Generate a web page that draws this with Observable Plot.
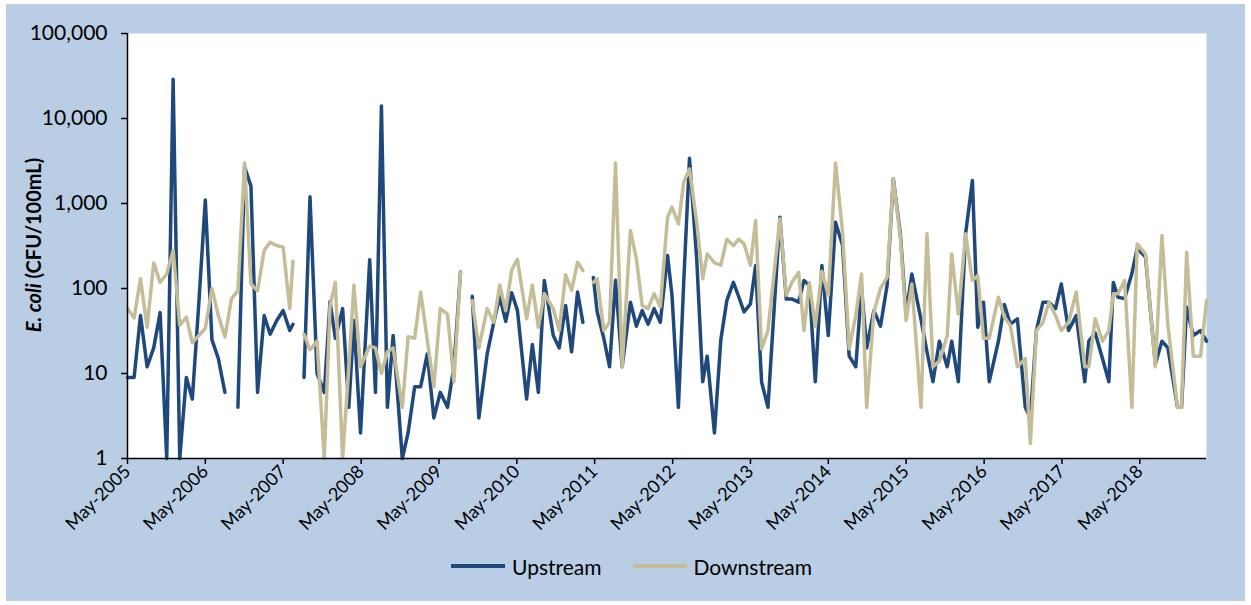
<!DOCTYPE html>
<html>
<head>
<meta charset="utf-8">
<script src="https://cdn.jsdelivr.net/npm/d3@7"></script>
<script src="https://cdn.jsdelivr.net/npm/@observablehq/plot@0.6"></script>
<style>
  html, body { margin: 0; padding: 0; background: #ffffff; }
  body { width: 1251px; height: 605px; position: relative; overflow: hidden; font-family: Lato, "Open Sans", sans-serif; }
  #panel { position: absolute; left: 6px; top: 4px; width: 1239px; height: 597px; background: #b9cde5; }
  #chart { position: absolute; left: 0; top: 0; }
  #legend { position: absolute; left: 450px; top: 553px; height: 26px; display: flex; align-items: center; font-size: 21px; color: #000; }
  #legend .item { display: flex; align-items: center; margin-right: 30px; }
  #legend svg { margin-right: 6px; }
</style>
</head>
<body>
<div id="panel"></div>
<div id="chart"></div>
<div id="legend"></div>
<script>
// Monthly E. coli samples (CFU/100mL); null marks a missed sample (line gap)
const sampleDates = [
  "2005-05-01","2005-06-01","2005-07-01","2005-08-01","2005-09-01","2005-10-01","2005-11-01","2005-12-01",
  "2006-01-01","2006-02-01","2006-03-01","2006-04-01","2006-05-01","2006-06-01","2006-07-01","2006-08-01",
  "2006-09-01","2006-10-01","2006-11-01","2006-12-01","2007-01-01","2007-02-01","2007-03-01","2007-04-01",
  "2007-05-01","2007-06-01","2007-06-16","2007-07-10","2007-08-07","2007-09-04","2007-10-07","2007-11-10",
  "2007-12-07","2008-01-01","2008-02-04","2008-03-04","2008-03-28","2008-04-28","2008-06-10","2008-07-07",
  "2008-08-04","2008-09-01","2008-09-28","2008-11-10","2008-12-07","2009-01-07","2009-02-04","2009-03-07",
  "2009-04-07","2009-05-07","2009-06-10","2009-07-10","2009-08-10","2009-09-07","2009-10-04","2009-11-04",
  "2009-12-13","2010-01-13","2010-02-10","2010-03-10","2010-04-07","2010-05-04","2010-06-16","2010-07-13",
  "2010-08-10","2010-09-07","2010-10-19","2010-11-16","2010-12-16","2011-01-13","2011-02-10","2011-03-07",
  "2011-04-01","2011-04-25","2011-05-13","2011-06-13","2011-07-10","2011-08-07","2011-09-07","2011-10-16",
  "2011-11-13","2011-12-10","2012-01-07","2012-02-04","2012-03-04","2012-04-07","2012-04-28","2012-05-28",
  "2012-06-22","2012-07-19","2012-08-22","2012-09-19","2012-10-10","2012-11-13","2012-12-13","2013-01-10",
  "2013-02-10","2013-03-07","2013-04-01","2013-05-01","2013-05-25","2013-06-22","2013-07-22","2013-09-16",
  "2013-10-16","2013-11-13","2013-12-13","2014-01-07","2014-02-01","2014-03-01","2014-04-01","2014-05-01",
  "2014-06-04","2014-07-07","2014-08-07","2014-09-07","2014-10-04","2014-10-28","2014-12-01","2015-01-01",
  "2015-02-01","2015-03-02","2015-04-04","2015-05-01","2015-05-28","2015-07-10","2015-08-07","2015-09-04",
  "2015-10-04","2015-11-10","2015-12-01","2016-01-01","2016-02-04","2016-03-07","2016-04-01","2016-04-28",
  "2016-05-25","2016-07-07","2016-08-04","2016-09-01","2016-10-04","2016-11-10","2016-12-04","2017-01-01",
  "2017-02-01","2017-03-01","2017-04-01","2017-04-28","2017-06-01","2017-07-07","2017-08-16","2017-09-04",
  "2017-10-04","2017-11-07","2017-12-07","2017-12-28","2018-01-19","2018-02-19","2018-03-25","2018-04-19",
  "2018-05-28","2018-07-13","2018-08-13","2018-09-10","2018-10-25","2018-11-13","2018-12-07","2019-01-07",
  "2019-02-10","2019-03-10"
];

const upstream = [
  9, 9, 48, 12, 20, 52, 1, 29000,
  1, 9, 5, 70, 1100, 25, 15, 6,
  null, 4, 2700, 1600, 6, 48, 29, 42,
  55, 32, 38, null, 9, 1200, 10, 6,
  70, 26, 58, 4, 42, 2, 218, 6,
  14000, 4, 28, 1, 2, 7, 7, 17,
  3, 6, 4, 12, 158, null, 81, 3,
  17, 40, 80, 41, 89, 55, 5, 22,
  6, 124, 28, 20, 63, 18, 91, 40,
  null, 135, 53, 26, 12, 125, 12, 69,
  36, 55, 38, 58, 40, 245, 83, 4,
  120, 3400, 220, 8, 16, 2, 25, 72,
  118, 80, 53, 66, 186, 8, 4, 690,
  75, 75, 69, 124, 109, 8, 186, 28,
  600, 320, 16, 12, 100, 20, 55, 36,
  110, 1950, 440, 50, 148, 43, 18, 8,
  24, 12, 24, 8, 440, 1860, 35, 69,
  8, 24, 65, 38, 44, 4, 3, 32,
  69, 69, 58, 113, 32, 48, 8, 24,
  30, 15, 8, 118, 79, 76, 150, 297,
  234, 13, 24, 20, 4, 4, 60, 28,
  32, 24
];

const downstream = [
  58, 45, 130, 35, 200, 118, 148, 280,
  37, 46, 23, 28, 34, 100, 48, 27,
  76, 94, 3000, 113, 94, 280, 350, 320,
  307, 58, 210, null, 29, 19, 24, 1,
  63, 118, 1, 12, 109, 12, 21, 20,
  10, 18, 20, 4, 27, 26, 91, 25,
  7, 58, 50, 8, 158, null, 72, 20,
  58, 40, 110, 55, 165, 220, 44, 110,
  35, 87, 58, 32, 145, 95, 204, 162,
  null, 118, 130, 32, 40, 3000, 12, 480,
  223, 63, 58, 87, 61, 690, 905, 575,
  1780, 2550, 600, 130, 255, 200, 188, 380,
  320, 380, 335, 188, 630, 19.5, 32, 660,
  83, 120, 155, 32, 118, 36, 160, 83,
  3000, 460, 19.5, 48, 148, 4, 53, 100,
  136, 1950, 400, 42, 113, 4, 440, 12,
  14, 28, 255, 50, 440, 124, 142, 26,
  26, 79, 46, 37, 12, 15, 1.5, 32,
  40, 69, 48, 32, 40, 91, 12, 12,
  44, 24, 32, 87, 87, 124, 4, 334,
  254, 12, 420, 37, 4, 4, 267, 16,
  16, 72
];

const yTicks = [1, 10, 100, 1000, 10000, 100000];
const xTicks = ["2005-05-01","2006-05-01","2007-05-01","2008-05-01","2009-05-01","2010-05-01","2011-05-01",
                "2012-05-01","2013-05-01","2014-05-01","2015-05-01","2016-05-01","2017-05-01","2018-05-01"];
const xStart = "2005-05-01";
const xEnd = "2019-03-10";

const seriesNames = ["Upstream", "Downstream"];
const seriesColors = ["#1f497d", "#c4bd97"];

const samples = sampleDates.map((d, i) => ({
  date: new Date(d),
  up: upstream[i],
  down: downstream[i]
}));

const chart = Plot.plot({
  width: 1251,
  height: 540,
  marginTop: 33,
  marginLeft: 127,
  marginRight: 45,
  marginBottom: 82,
  style: { background: "transparent", fontFamily: "Lato, 'Open Sans', sans-serif", color: "#000" },
  x: { type: "utc", domain: [new Date(xStart), new Date(xEnd)] },
  y: { type: "log", domain: [1, 100000] },
  marks: [
    Plot.frame({ fill: "#ffffff", stroke: null }),
    Plot.lineY(samples, { x: "date", y: "up", stroke: seriesColors[0], strokeWidth: 3.5, strokeLinejoin: "round", strokeLinecap: "round" }),
    Plot.lineY(samples, { x: "date", y: "down", stroke: seriesColors[1], strokeWidth: 3.5, strokeLinejoin: "round", strokeLinecap: "round" }),
    Plot.ruleY([1], { stroke: "#000", strokeWidth: 1.5 }),
    Plot.ruleX([new Date(xStart)], { stroke: "#000", strokeWidth: 1.5 }),
    Plot.axisY({ ticks: yTicks, tickFormat: d3.format(","), tickSize: 6, tickPadding: 14, fontSize: 21, stroke: "#000", strokeWidth: 1.5, label: null }),
    Plot.axisX({ ticks: xTicks.map(d => new Date(d)), tickFormat: d3.utcFormat("%b-%Y"), tickSize: 6, tickPadding: 4,
                 tickRotate: -45, textAnchor: "end", fontSize: 18, stroke: "#000", strokeWidth: 1.5, label: null })
  ]
});

// Y axis title with the italic organism name
const title = d3.select(chart).append("text")
  .attr("transform", "translate(41,245) rotate(-90)")
  .attr("text-anchor", "middle")
  .attr("font-weight", "bold")
  .attr("font-size", 20)
  .attr("fill", "#000");
title.append("tspan").attr("font-style", "italic").text("E. coli");
title.append("tspan").text(" (CFU/100mL)");

document.getElementById("chart").appendChild(chart);

// Legend below the chart
const legend = d3.select("#legend");
seriesNames.forEach((name, i) => {
  const item = legend.append("div").attr("class", "item");
  const sw = item.append("svg").attr("width", 56).attr("height", 10);
  sw.append("line").attr("x1", 1).attr("x2", 55).attr("y1", 5).attr("y2", 5)
    .attr("stroke", seriesColors[i]).attr("stroke-width", 4);
  item.append("span").text(name);
});
</script>
</body>
</html>
